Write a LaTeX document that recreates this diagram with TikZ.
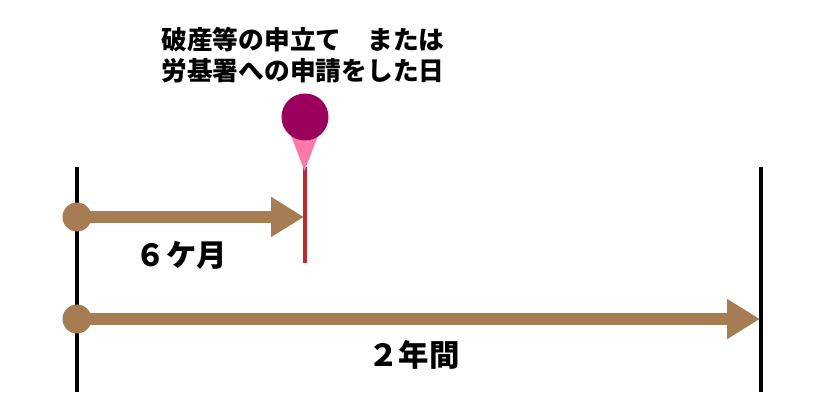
\documentclass[tikz,border=0pt]{standalone}
\usepackage{fontspec}
\usetikzlibrary{arrows.meta}
\newfontfamily\cjk{Noto Sans CJK JP}
\definecolor{spanbrown}{RGB}{166,125,82}
\definecolor{pinpurple}{RGB}{156,0,93}
\definecolor{pinpink}{RGB}{255,121,168}
\definecolor{markred}{RGB}{196,38,46}
\tikzset{every picture/.style={line width=0.75pt}}
\tikzset{
  limitline/.style={line width=3pt,draw=black},
  markline/.style={line width=3pt,draw=markred},
  spanarrow/.style={line width=9pt,draw=spanbrown,-{Triangle[length=24.75pt,width=28.5pt,fill=spanbrown]}},
  startdot/.style={circle,fill=spanbrown,inner sep=0pt,minimum size=21.75pt},
  pinhead/.style={circle,fill=pinpurple,inner sep=0pt,minimum size=35.25pt},
  spanlabel/.style={inner sep=0pt,font=\cjk\bfseries\fontsize{22.8}{27}\selectfont},
  titlelabel/.style={inner sep=0pt,align=center,font=\cjk\bfseries\fontsize{19.3}{23.2}\selectfont}
}
\begin{document}
\begin{tikzpicture}[x=0.75pt,y=0.75pt,yscale=-1,xscale=1]
\useasboundingbox (0,0) rectangle (839,420);

%Limit lines
\coordinate (lefttop) at (77,167);
\coordinate (leftbottom) at (77,392);
\coordinate (righttop) at (761,167);
\coordinate (rightbottom) at (761,392);
\draw [limitline] (lefttop) -- (leftbottom);
\draw [limitline] (righttop) -- (rightbottom);

%Filing date marker
\coordinate (marktop) at (304.5,167);
\coordinate (markbottom) at (304.5,263);
\draw [markline] (marktop) -- (markbottom);
\coordinate (pintip) at (304.5,171);
\fill [pinpink] (290,133) -- (pintip) -- (319,133) -- cycle;
\node [pinhead] (pin) at (305,117) {};

%Spans
\node [startdot] (start6m) at (77,217) {};
\node [startdot] (start2y) at (77,319) {};
\coordinate (end6m) at (304,217);
\coordinate (end2y) at (760,319);
\draw [spanarrow] (start6m.center) -- (end6m);
\draw [spanarrow] (start2y.center) -- (end2y);

% Text Node
\node [titlelabel] (title) at (303,55) {破産等の申立て　または\\労基署への申請をした日};
% Text Node
\node [spanlabel] (label6m) at (181.5,255) {６ケ月};
% Text Node
\node [spanlabel] (label2y) at (414,355) {２年間};
\end{tikzpicture}
\end{document}
